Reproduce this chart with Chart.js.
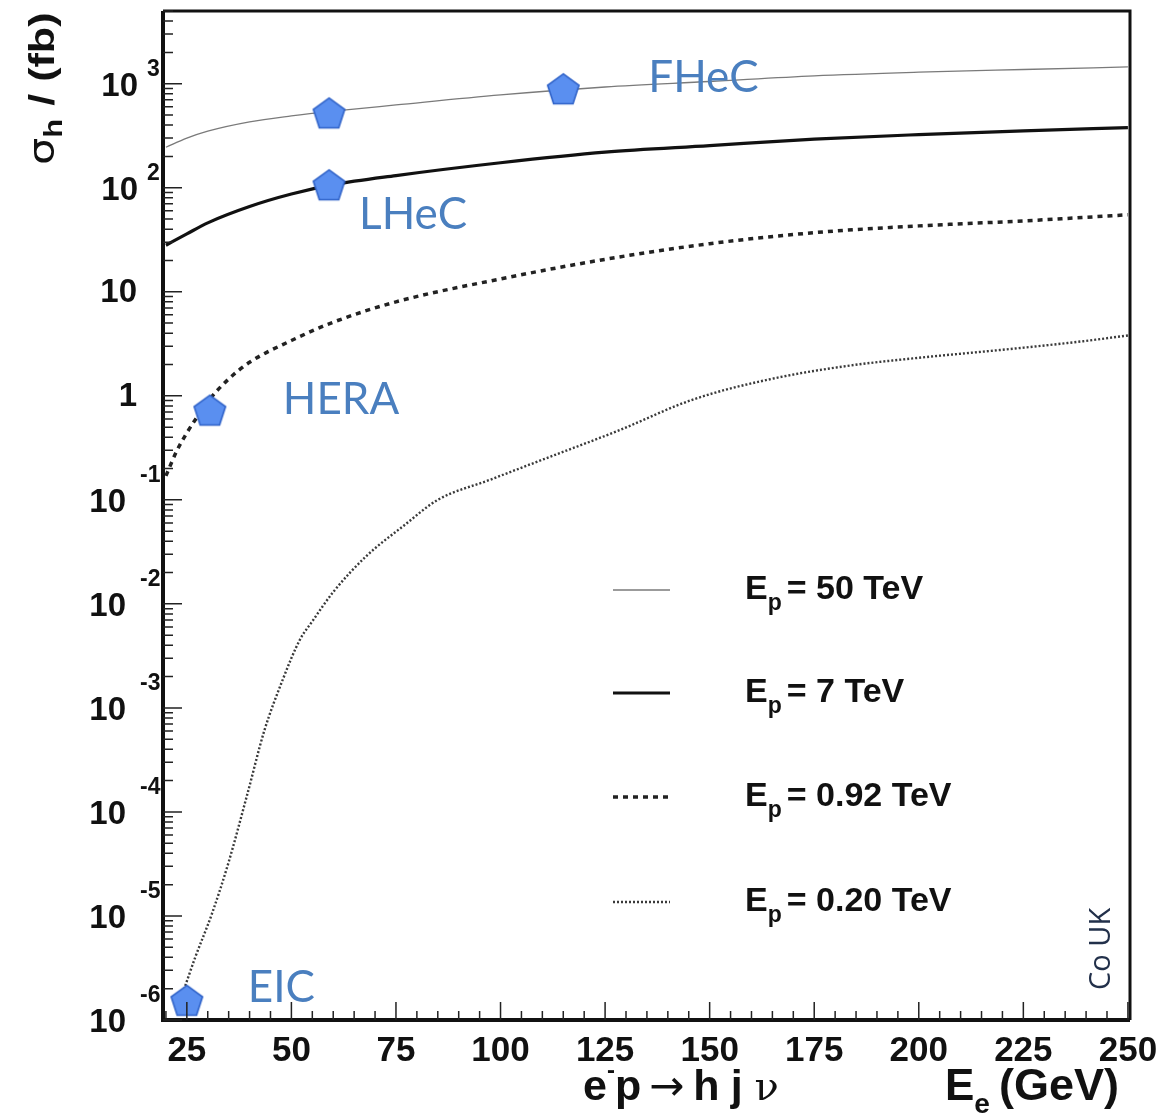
<!DOCTYPE html>
<html>
<head>
<meta charset="utf-8">
<title>e-p → h j ν cross section</title>
<script src="https://cdn.jsdelivr.net/npm/chart.js@4.4.1/dist/chart.umd.min.js"></script>
<style>
  html, body { margin: 0; padding: 0; background: #fff; }
  canvas { display: block; }
</style>
</head>
<body>
<canvas id="sigmaChart" width="1156" height="1115"></canvas>
<script>
// Electron beam energy E_e (GeV) and cross section sigma_h (fb)
const eeGrid = [20, 25, 30, 40, 50, 60, 75, 100, 125, 150, 175, 200, 225, 250];
const sigma50TeV = [245, 300, 350, 430, 490, 545, 625, 780, 930, 1050, 1190, 1290, 1370, 1450];
const sigma7TeV = [28, 36, 46, 66, 87, 107, 131, 174, 220, 254, 293, 324, 352, 378];

const ee092 = [20, 22.5, 25, 27.5, 30, 35, 40, 50, 60, 75, 100, 125, 150, 175, 200, 225, 250];
const sigma092TeV = [0.17, 0.29, 0.44, 0.63, 0.88, 1.45, 2.1, 3.4, 5.1, 8.0, 13.3, 20.5, 29, 37, 43, 48, 55];

const ee020 = [24, 27, 31, 35, 39.5, 43.5, 48, 52, 55, 60, 68, 77, 85, 97.5, 110, 128, 146, 165, 183, 200, 220, 238, 250];
const sigma020TeV = [1.8e-6, 4e-6, 1.05e-5, 3.3e-5, 1.5e-4, 6e-4, 1.9e-3, 4.5e-3, 6.8e-3, 0.013, 0.029, 0.057, 0.1, 0.156, 0.243, 0.46, 0.92, 1.46, 1.94, 2.32, 2.77, 3.3, 3.8];

// Collider working points (pentagons)
const colliderE = [25, 30.5, 59, 59, 115];
const colliderSigma = [1.55e-6, 0.73, 107, 525, 895];
const colliderNames = ['EIC', 'HERA', 'LHeC', '', 'FHeC'];

// Legend and axis ticks
const protonEnergies = ['50', '7', '0.92', '0.20'];
const xTickValues = [25, 50, 75, 100, 125, 150, 175, 200, 225, 250];
const yExponents = [-6, -5, -4, -3, -2, -1, 0, 1, 2, 3];

const BOLD = '"Liberation Sans", Arial, Helvetica, sans-serif';

function points(xs, ys) {
    return xs.map((v, i) => ({ x: v, y: ys[i] }));
}

/**
 * Blue pentagon used as point style
 */
function makePentagon(r) {
    const size = Math.ceil(2 * r + 4);
    const c = document.createElement('canvas');
    c.width = size;
    c.height = size;
    const g = c.getContext('2d');
    const cx = size / 2;
    const cy = size / 2 + r * 0.1;
    g.beginPath();
    for (let k = 0; k < 5; k++) {
        const ang = -Math.PI / 2 + k * 2 * Math.PI / 5;
        const px = cx + r * Math.cos(ang);
        const py = cy + r * Math.sin(ang);
        if (k === 0) g.moveTo(px, py); else g.lineTo(px, py);
    }
    g.closePath();
    g.fillStyle = '#5a8ff0';
    g.fill();
    g.lineWidth = 1.6;
    g.strokeStyle = '#2f62c8';
    g.stroke();
    return c;
}

// text piece helper: font, string, dx, dy (relative to current pen)
function drawPieces(ctx, x, y, pieces) {
    let pen = x;
    pieces.forEach(p => {
        ctx.font = p.font;
        pen += p.dx || 0;
        ctx.fillText(p.text, pen, y + (p.dy || 0));
        pen += ctx.measureText(p.text).width;
    });
    return pen;
}

const rootStylePlugin = {
    id: 'rootStyle',
    afterDatasetsDraw(chart) {
        const { ctx, chartArea: a } = chart;
        const xs = chart.scales.x;
        const ys = chart.scales.y;
        ctx.save();

        // collider names
        const nameOffsets = { EIC: [61, -12], HERA: [73, -10], LHeC: [30, 30], FHeC: [85, -11] };
        ctx.fillStyle = '#4a7fbf';
        ctx.font = '44px Lato, "Open Sans", sans-serif';
        ctx.textBaseline = 'middle';
        ctx.textAlign = 'left';
        colliderNames.forEach((name, i) => {
            if (!name) return;
            const off = nameOffsets[name];
            ctx.fillText(name, xs.getPixelForValue(colliderE[i]) + off[0], ys.getPixelForValue(colliderSigma[i]) + off[1]);
        });

        // frame
        ctx.strokeStyle = '#111';
        ctx.lineWidth = 3;
        ctx.beginPath();
        ctx.moveTo(a.left, a.top);
        ctx.lineTo(a.right, a.top);
        ctx.lineTo(a.right, a.bottom);
        ctx.stroke();
        ctx.lineWidth = 4;
        ctx.beginPath();
        ctx.moveTo(a.left, a.top);
        ctx.lineTo(a.left, a.bottom);
        ctx.lineTo(a.right, a.bottom);
        ctx.stroke();

        // ticks
        ctx.lineWidth = 1.5;
        ctx.strokeStyle = '#222';
        ctx.beginPath();
        for (let v = 20; v <= 250; v += 5) {
            const px = xs.getPixelForValue(v);
            const len = v % 25 === 0 ? 18 : 9;
            ctx.moveTo(px, a.bottom);
            ctx.lineTo(px, a.bottom - len);
        }
        yExponents.forEach(e => {
            for (let m = 1; m <= 9; m++) {
                const v = m * Math.pow(10, e);
                if (v > ys.max) break;
                const py = ys.getPixelForValue(v);
                ctx.moveTo(a.left, py);
                ctx.lineTo(a.left + (m === 1 ? 19 : 10), py);
            }
        });
        ctx.stroke();

        // x tick labels
        ctx.fillStyle = '#111';
        ctx.font = 'bold 35px ' + BOLD;
        ctx.textAlign = 'center';
        ctx.textBaseline = 'alphabetic';
        xTickValues.forEach(v => {
            ctx.fillText(String(v), xs.getPixelForValue(v), 1061);
        });

        // y tick labels, ROOT style 10 with exponent
        ctx.textBaseline = 'middle';
        yExponents.forEach(e => {
            const py = ys.getPixelForValue(Math.pow(10, e));
            if (e === 0 || e === 1) {
                ctx.textAlign = 'right';
                ctx.font = 'bold 33px ' + BOLD;
                ctx.fillText(e === 0 ? '1' : '10', 137, py + 1);
                return;
            }
            const neg = e < 0;
            ctx.textAlign = 'right';
            ctx.font = 'bold 33px ' + BOLD;
            ctx.fillText('10', neg ? 126 : 138, py + 3);
            ctx.textAlign = 'left';
            ctx.font = 'bold 23px ' + BOLD;
            ctx.fillText(neg ? '-' + Math.abs(e) : String(e), neg ? 140 : 147, py + (neg ? -24 : -14));
        });

        // legend
        const legendY = [590, 693, 797, 902];
        ctx.textAlign = 'left';
        ctx.textBaseline = 'middle';
        chart.data.datasets.slice(0, 4).forEach((ds, i) => {
            const yy = legendY[i];
            ctx.save();
            ctx.strokeStyle = ds.borderColor;
            ctx.lineWidth = ds.borderWidth;
            ctx.setLineDash(ds.borderDash || []);
            ctx.beginPath();
            ctx.moveTo(613, yy);
            ctx.lineTo(670, yy);
            ctx.stroke();
            ctx.restore();
            ctx.fillStyle = '#111';
            drawPieces(ctx, 745, yy, [
                { text: 'E', font: 'bold 34px ' + BOLD },
                { text: 'p', font: 'bold 23px ' + BOLD, dx: 0, dy: 14 },
                { text: '= ' + protonEnergies[i] + ' TeV', font: 'bold 34px ' + BOLD, dx: 5 }
            ]);
        });

        // x axis title
        ctx.textBaseline = 'alphabetic';
        drawPieces(ctx, 583, 1100, [
            { text: 'e', font: 'bold 43px ' + BOLD },
            { text: '-', font: 'bold 24px ' + BOLD, dy: -22 },
            { text: 'p', font: 'bold 43px ' + BOLD },
            { text: '\u2192', font: '42px "DejaVu Sans", sans-serif', dx: 8 },
            { text: 'h', font: 'bold 43px ' + BOLD, dx: 9 },
            { text: 'j', font: 'bold 43px ' + BOLD, dx: 11 },
            { text: '\u03bd', font: '40px "DejaVu Serif", serif', dx: 12 }
        ]);
        drawPieces(ctx, 945, 1100, [
            { text: 'E', font: 'bold 44px ' + BOLD },
            { text: 'e', font: 'bold 28px ' + BOLD, dy: 13 },
            { text: '(GeV)', font: 'bold 45px ' + BOLD, dx: 9 }
        ]);

        // y axis title, rotated and stretched along its length
        ctx.save();
        ctx.translate(54, 165);
        ctx.rotate(-Math.PI / 2);
        ctx.scale(1.23, 1);
        drawPieces(ctx, 0, 0, [
            { text: '\u03c3', font: '35px "DejaVu Sans", sans-serif' },
            { text: 'h', font: 'bold 25px ' + BOLD, dy: 8 },
            { text: ' / (fb)', font: 'bold 35px ' + BOLD, dx: 1 }
        ]);
        ctx.restore();

        // stamp
        ctx.save();
        ctx.translate(1110, 990);
        ctx.rotate(-Math.PI / 2);
        ctx.fillStyle = '#22304a';
        ctx.font = '29px "Open Sans", sans-serif';
        ctx.textAlign = 'left';
        ctx.textBaseline = 'alphabetic';
        ctx.fillText('Co UK', 0, 0);
        ctx.restore();

        ctx.restore();
    }
};

const pentagon = makePentagon(16.5);

const lineDefaults = {
    pointRadius: 0,
    cubicInterpolationMode: 'monotone',
    fill: false,
    order: 1
};

new Chart(document.getElementById('sigmaChart'), {
    type: 'line',
    data: {
        datasets: [
            Object.assign({ label: 'Ep = 50 TeV', data: points(eeGrid, sigma50TeV), borderColor: '#7a7a7a', borderWidth: 1.3 }, lineDefaults),
            Object.assign({ label: 'Ep = 7 TeV', data: points(eeGrid, sigma7TeV), borderColor: '#111', borderWidth: 3.2 }, lineDefaults),
            Object.assign({ label: 'Ep = 0.92 TeV', data: points(ee092, sigma092TeV), borderColor: '#222', borderWidth: 3.5, borderDash: [5, 5] }, lineDefaults),
            Object.assign({ label: 'Ep = 0.20 TeV', data: points(ee020, sigma020TeV), borderColor: '#3a3a3a', borderWidth: 2.4, borderDash: [2, 2] }, lineDefaults),
            {
                label: 'colliders',
                data: points(colliderE, colliderSigma),
                showLine: false,
                pointStyle: pentagon,
                pointRadius: 3,
                order: 0,
                clip: false
            }
        ]
    },
    options: {
        responsive: false,
        animation: false,
        devicePixelRatio: 1,
        layout: { padding: { left: 163, right: 26, top: 11, bottom: 95 } },
        plugins: { legend: { display: false }, tooltip: { enabled: false }, title: { display: false } },
        scales: {
            x: { type: 'linear', min: 19.3, max: 250.5, display: false },
            y: { type: 'logarithmic', min: 1e-6, max: 5000, display: false }
        }
    },
    plugins: [rootStylePlugin]
});
</script>
</body>
</html>
